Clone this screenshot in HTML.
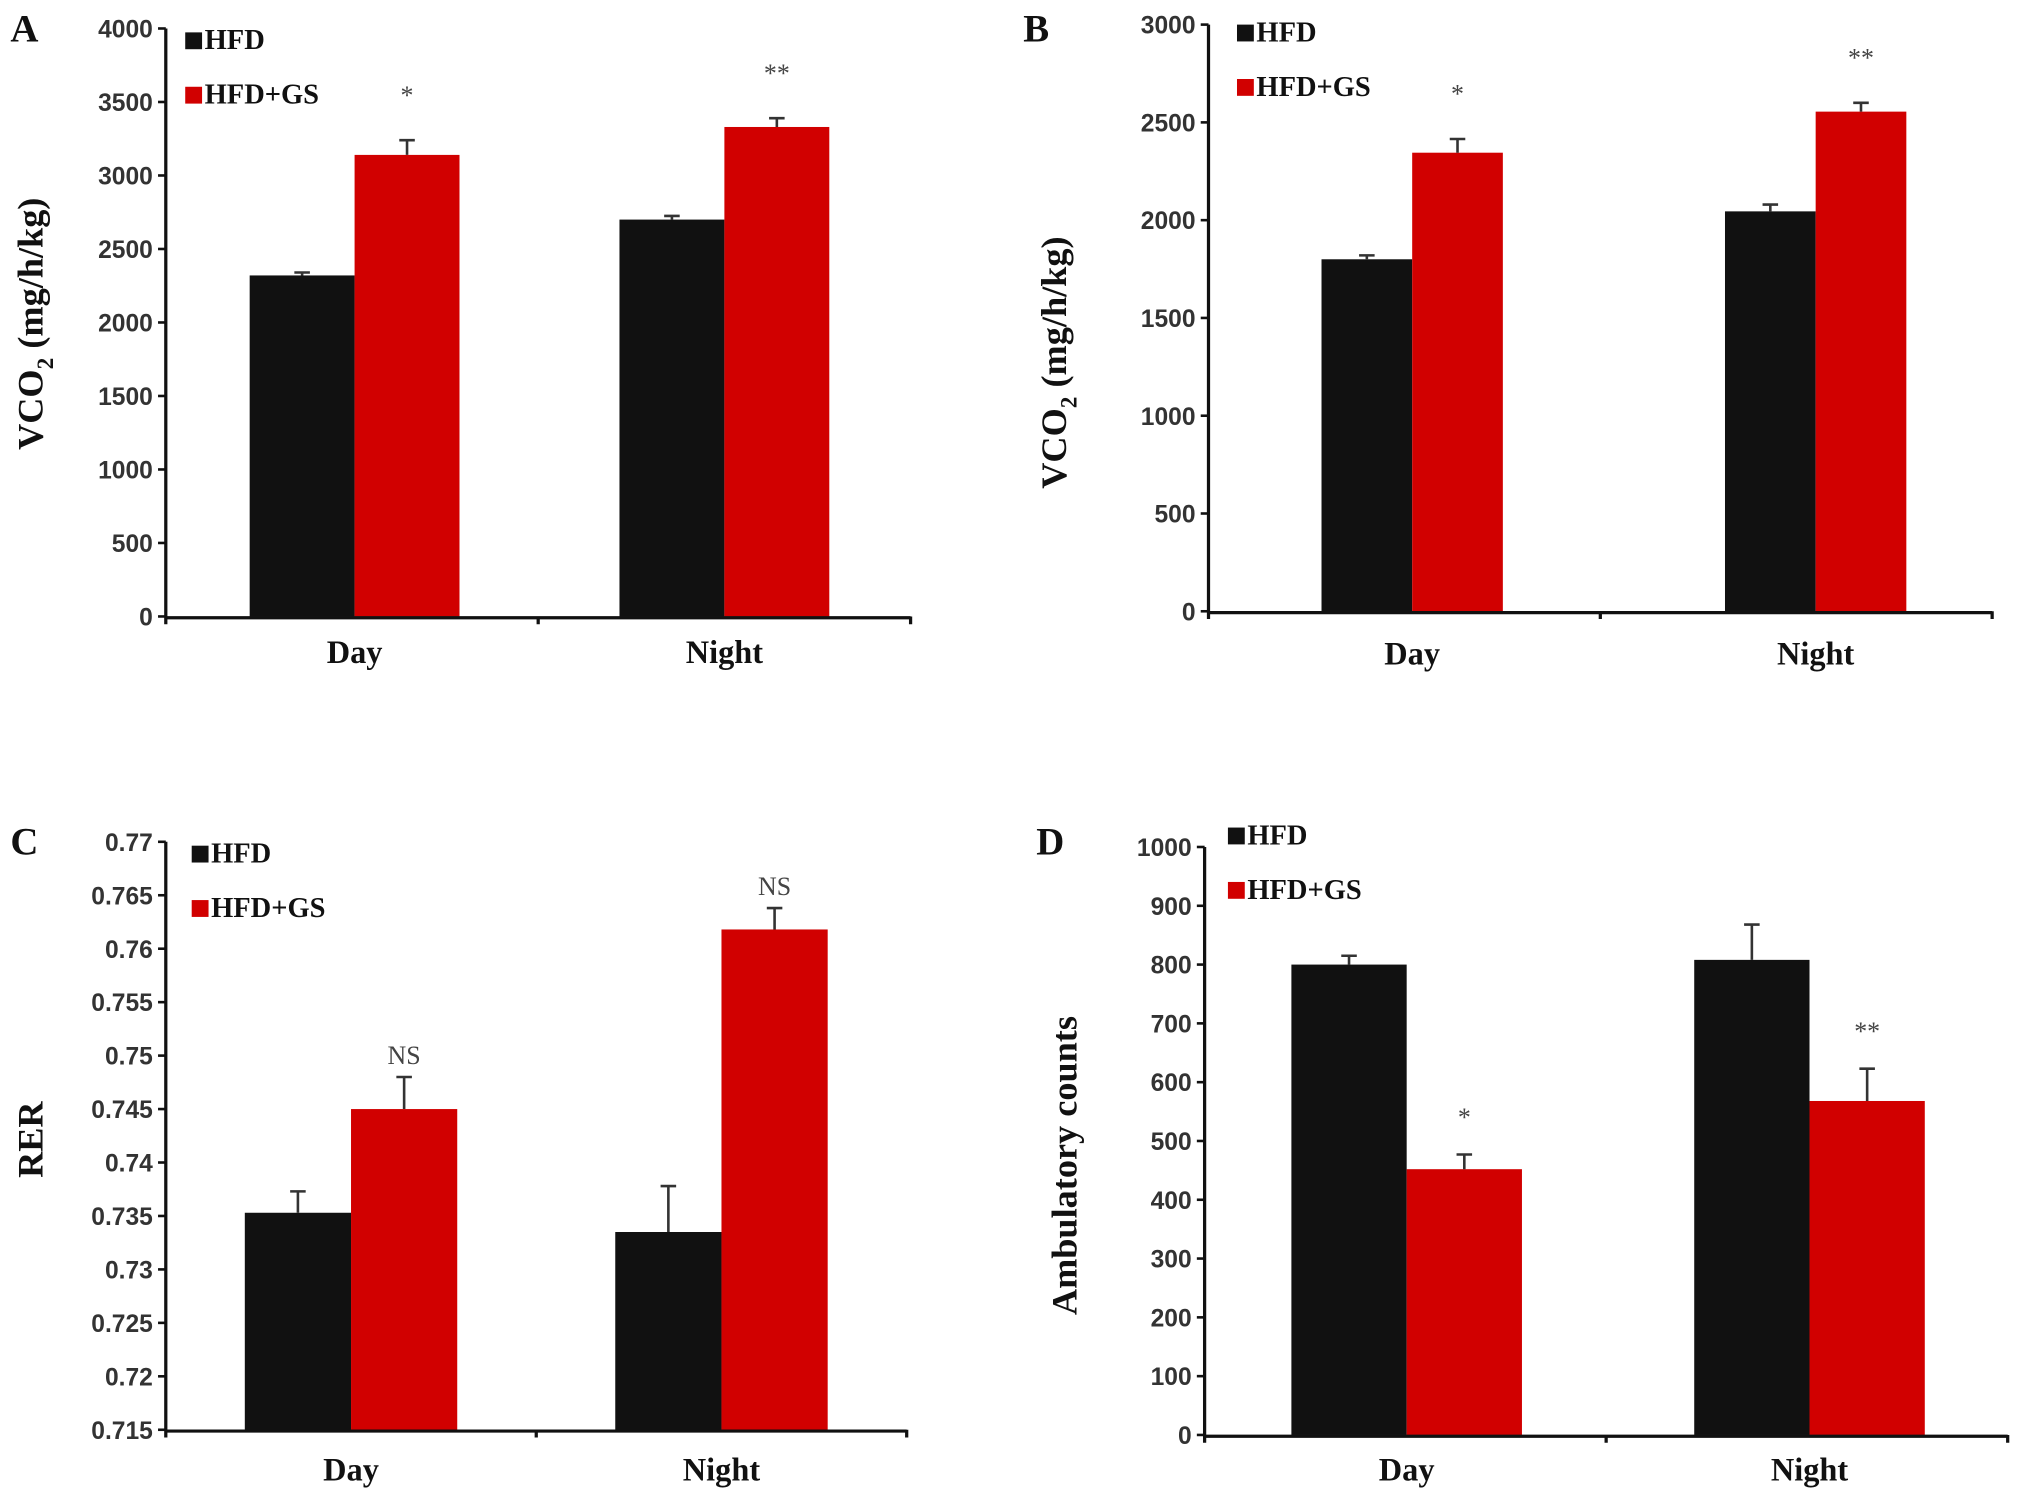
<!DOCTYPE html>
<html><head><meta charset="utf-8"><style>
html,body{margin:0;padding:0;background:#fff;}
svg{display:block;}
.tick{font-family:"Liberation Sans",sans-serif;font-size:19px;font-weight:bold;fill:#333;}
.cat{font-family:"Liberation Serif",serif;font-size:25px;font-weight:bold;fill:#111;}
.leg{font-family:"Liberation Serif",serif;font-size:22px;font-weight:bold;fill:#111;}
.ttl{font-family:"Liberation Serif",serif;font-size:28px;font-weight:bold;fill:#111;}
.let{font-family:"Liberation Serif",serif;font-size:30px;font-weight:bold;fill:#111;}
.sig{font-family:"Liberation Serif",serif;font-size:20px;fill:#444;}
</style></head><body>
<svg id="fig" width="2031" height="1501" viewBox="0 0 1568 1159" preserveAspectRatio="none" xmlns="http://www.w3.org/2000/svg"></svg>
<script>
const categories = ["Day","Night"];
const seriesNames = ["HFD","HFD+GS"];
// Panel A VCO2
const aHFD = [2320, 2700];
const aGS = [3140, 3330];
const aHFDErr = [20, 25];
const aGSErr = [100, 60];
const aSig = ["*","**"];
const aTicks = [0,500,1000,1500,2000,2500,3000,3500,4000];
// Panel B VCO2
const bHFD = [1800, 2045];
const bGS = [2345, 2555];
const bHFDErr = [20, 35];
const bGSErr = [70, 45];
const bSig = ["*","**"];
const bTicks = [0,500,1000,1500,2000,2500,3000];
// Panel C RER
const cHFD = [0.7353, 0.7335];
const cGS = [0.745, 0.7618];
const cHFDErr = [0.002, 0.0043];
const cGSErr = [0.003, 0.002];
const cSig = ["NS","NS"];
const cTicks = [0.715,0.72,0.725,0.73,0.735,0.74,0.745,0.75,0.755,0.76,0.765,0.77];
const cTickLabels = ["0.715","0.72","0.725","0.73","0.735","0.74","0.745","0.75","0.755","0.76","0.765","0.77"];
// Panel D ambulatory
const dHFD = [800, 808];
const dGS = [452, 568];
const dHFDErr = [15, 60];
const dGSErr = [25, 55];
const dSig = ["*","**"];
const dTicks = [0,100,200,300,400,500,600,700,800,900,1000];

const NS="http://www.w3.org/2000/svg";
const svg=document.getElementById('fig');
function mk(tag,attrs,parent,text){const e=document.createElementNS(NS,tag);for(const k in attrs)e.setAttribute(k,attrs[k]);if(text!==undefined)e.textContent=text;(parent||svg).appendChild(e);return e;}

function panel(cfg){
  const g=mk('g',{});
  
  
  const {x0,x1,yTop,yBot,min,max}=cfg;
  const y=v=>yBot-(v-min)/(max-min)*(yBot-yTop);
  cfg.ticks.forEach((t,i)=>{
    const ln=mk('line',{x1:x0-6,x2:x0,y1:y(t),y2:y(t),stroke:'#111','stroke-width':2},g);
    
    
    const tx=mk('text',{x:x0-10,y:y(t)+7,'text-anchor':'end',class:'tick'},g,cfg.labels?cfg.labels[i]:String(t));
    
    
  });
  const bandW=(x1-x0)/categories.length;
  const barW=cfg.barW;
  categories.forEach((c,i)=>{
    const cx=x0+bandW*(i+0.5)+cfg.shift[i];
    const sets=[[cfg.hfd,cfg.hfdErr,'#111111',cx-barW],[cfg.gs,cfg.gsErr,'#d10000',cx]];
    sets.forEach((s,j)=>{
      const v=s[0][i],e=s[1][i],bx=s[3];
      const r=mk('rect',{x:bx,y:y(v),width:barW,height:yBot-y(v),fill:s[2]},g);
      
      
      const mx=bx+barW/2;
      const el=mk('path',{d:`M${mx},${y(v)}V${y(v+e)}M${mx-6},${y(v+e)}H${mx+6}`,stroke:'#333','stroke-width':2,fill:'none'},g);
      
      
    });
    const gx=cx+barW/2;
    const sy=y(cfg.gs[i]+cfg.gsErr[i])-cfg.sigGap;
    const st=mk('text',{x:gx,y:sy,'text-anchor':'middle',class:'sig'},g,cfg.sig[i]);
    
    
    const ct=mk('text',{x:cx,y:cfg.catY,'text-anchor':'middle',class:'cat'},g,c);
    
    
  });
  const ax=mk('path',{d:`M${x0},${yTop}V${yBot+1}H${x1}M${(x0+x1)/2},${yBot}v6M${x1},${yBot}v6M${x0},${yBot}v6`,stroke:'#111','stroke-width':2.5,fill:'none'},g);
  
  
  const lg=mk('g',{},g);
  
  
  [['#111111',seriesNames[0],cfg.legY],['#d10000',seriesNames[1],cfg.legY+42]].forEach(l=>{
    mk('rect',{x:cfg.legX,y:l[2]-13,width:13,height:13,fill:l[0]},lg);
    const t=mk('text',{x:cfg.legX+15,y:l[2],class:'leg'},lg,l[1]);
    
    
  });
  const tt=mk('text',{x:0,y:0,'text-anchor':'middle',class:'ttl',transform:`translate(${cfg.titleX},${cfg.titleY}) rotate(-90)`},g);
  
  
  if(cfg.vco2){
    tt.appendChild(document.createTextNode('VCO'));
    mk('tspan',{'font-size':18,dy:8},tt,'2');
    mk('tspan',{dy:-8},tt,' (mg/h/kg)');
  } else tt.textContent=cfg.title;
  const lt=mk('text',{x:cfg.letX,y:cfg.letY,class:'let'},g,cfg.id);
  
  
}

panel({id:'A',x0:128,x1:703,yTop:22,yBot:476,min:0,max:4000,barW:81,shift:[2,0],hfd:aHFD,gs:aGS,hfdErr:aHFDErr,gsErr:aGSErr,sig:aSig,ticks:aTicks,sigGap:28,catY:512,legX:143,legY:38,titleX:33,titleY:250,vco2:true,letX:8,letY:32});
panel({id:'B',x0:933,x1:1538,yTop:19,yBot:472,min:0,max:3000,barW:70,shift:[6,15],hfd:bHFD,gs:bGS,hfdErr:bHFDErr,gsErr:bGSErr,sig:bSig,ticks:bTicks,sigGap:28,catY:513,legX:955,legY:32,titleX:823,titleY:280,vco2:true,letX:790,letY:32});
panel({id:'C',x0:128,x1:700,yTop:650,yBot:1104,min:0.715,max:0.77,barW:82,shift:[0,0],hfd:cHFD,gs:cGS,hfdErr:cHFDErr,gsErr:cGSErr,sig:cSig,ticks:cTicks,labels:cTickLabels,sigGap:10,catY:1143,legX:148,legY:666,titleX:33,titleY:880,title:'RER',letX:8,letY:660});
panel({id:'D',x0:930,x1:1550,yTop:654,yBot:1108,min:0,max:1000,barW:89,shift:[1,2],hfd:dHFD,gs:dGS,hfdErr:dHFDErr,gsErr:dGSErr,sig:dSig,ticks:dTicks,sigGap:22,catY:1143,legX:948,legY:652,titleX:831,titleY:900,title:'Ambulatory counts',letX:800,letY:660});
</script>
</body></html>
